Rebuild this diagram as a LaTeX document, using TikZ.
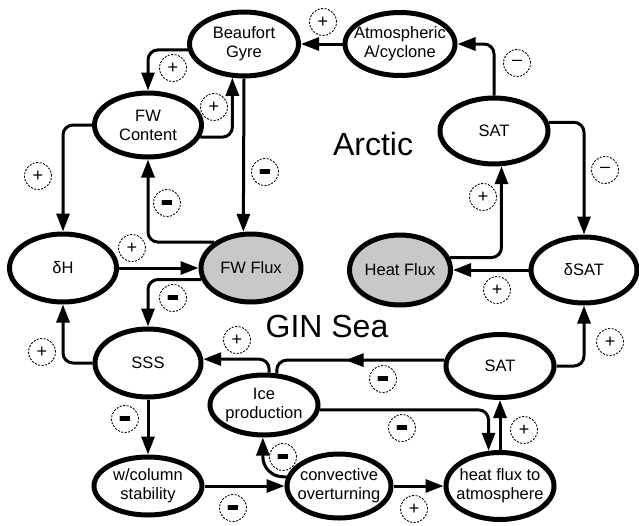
\documentclass[tikz,border=0pt]{standalone}
\usepackage{fontspec}
\setmainfont{Liberation Sans}
\newfontfamily\symfont{DejaVu Sans}
\usetikzlibrary{arrows.meta,shapes.geometric,decorations.markings}
\definecolor{fluxgray}{RGB}{200,200,200}
\begin{document}
\begin{tikzpicture}[x=1pt,y=-1pt,
  box/.style={ellipse, draw, fill=white, line width=5pt, inner sep=-40pt,
    minimum width=108pt, minimum height=64pt, align=center,
    font=\fontsize{16.5}{19}\selectfont},
  flux/.style={box, fill=fluxgray, minimum width=100pt, minimum height=68pt},
  link/.style={line width=3pt, rounded corners=10pt, -{Triangle[length=18pt,width=13pt]}},
  midlink/.style={line width=3pt, rounded corners=10pt, postaction={decorate},
    decoration={markings, mark=at position 0.56 with {\arrow{Triangle[length=18pt,width=13pt]}}}},
  sign/.style={circle, draw, dash pattern=on 2pt off 1.5pt, line width=0.9pt,
    minimum size=27pt, inner sep=0pt, font=\fontsize{18}{18}\selectfont},
  area/.style={inner sep=0pt, font=\fontsize{32}{32}\selectfont}
]
\useasboundingbox (0,0) rectangle (639,525);

% signs
\newcommand\barsign{{\symfont\fontsize{13.5}{13.5}\selectfont ▬}}
\node[sign] (s1) at (323,22) {+};
\node[sign] (s2) at (173,68) {+};
\node[sign] (s3) at (214,107) {+};
\node[sign] (s4) at (517,63) {–};
\node[sign] (s5) at (265,172) {\barsign};
\node[sign] (s6) at (605,170) {–};
\node[sign] (s7) at (38,176) {+};
\node[sign] (s8) at (483,197) {+};
\node[sign] (s9) at (167,203) {\barsign};
\node[sign] (s10) at (132,248) {+};
\node[sign] (s11) at (173,298) {\barsign};
\node[sign] (s12) at (497,290) {+};
\node[sign] (s13) at (42,352) {+};
\node[sign] (s14) at (237,340) {+};
\node[sign] (s15) at (610,342) {+};
\node[sign] (s16) at (383,379) {\barsign};
\node[sign] (s17) at (125,419) {\barsign};
\node[sign] (s18) at (402,428) {\barsign};
\node[sign] (s19) at (524,430) {+};
\node[sign] (s20) at (283,457) {\barsign};
\node[sign] (s21) at (233,508) {\barsign};
\node[sign] (s22) at (414,509) {+};

% region labels
\node[area] (arctic) at (373,144) {Arctic};
\node[area] (gin) at (327,326) {GIN Sea};

% nodes
\node[box, minimum width=109pt] (bg) at (244,44) {Beaufort\\Gyre};
\node[box, minimum width=110pt, minimum height=63pt] (aa) at (400,44) {Atmospheric\\A/cyclone};
\node[box, minimum width=107pt] (fc) at (148,125) {FW\\Content};
\node[box, minimum height=66pt] (sa) at (494,131) {SAT};
\node[box, minimum width=107pt, minimum height=68pt] (dh) at (63,268) {δH};
\node[flux] (ff) at (251,268) {FW Flux};
\node[flux, minimum width=101pt, minimum height=70pt] (hf) at (400,270) {Heat Flux};
\node[box, minimum width=106pt, minimum height=66pt] (ds) at (584,270) {δSAT};
\node[box, minimum width=106pt, minimum height=68pt] (sss) at (148,363) {SSS};
\node[box, minimum height=63pt] (sg) at (500,366) {SAT};
\node[box, minimum height=60pt] (ice) at (264,405) {Ice\\production};
\node[box, minimum height=58pt] (wc) at (148,486) {w/column\\stability};
\node[box, minimum width=104pt] (co) at (339,486) {convective\\overturning};
\node[box, minimum height=67pt] (hx) at (500,486) {heat flux to\\atmosphere};

% connectors
\draw[link] (aa.west) -- (bg.east);
\draw[link] (sa.north) |- (aa.east);
\draw[link] (sa.9) -| (ds.north);
\draw[link] (hf.14) -| (sa.-78);
\draw[link] (ds.west) -- (hf.east);
\draw[link] (sg.east) -| (ds.south);
\draw[midlink] (sg.174) -| (ice.68);
\draw[link] (ice.81) |- (sss.4);
\draw[link] (ice.-5) -| (hx.108);
\draw[link] (hx.north) -- (sg.south);
\draw[link] (co.east) -- (hx.west);
\draw[link] (wc.east) -- (co.west);
\draw[link, rounded corners=20pt] (co.170) -| (ice.-92);
\draw[link] (sss.south) -- (wc.north);
\draw[link] (sss.west) -| (dh.south);
\draw[link] (ff.193) -| (sss.north);
\draw[link] (dh.east) -- (ff.west);
\draw[link] (ff.145) -| (fc.south);
\draw[link] (fc.west) -| (dh.north);
\draw[link] (bg.186) -| (fc.north);
\draw[link] (fc.-13) -| (bg.-109);
\draw[link] (bg.south) -- (ff.102);
\end{tikzpicture}
\end{document}
